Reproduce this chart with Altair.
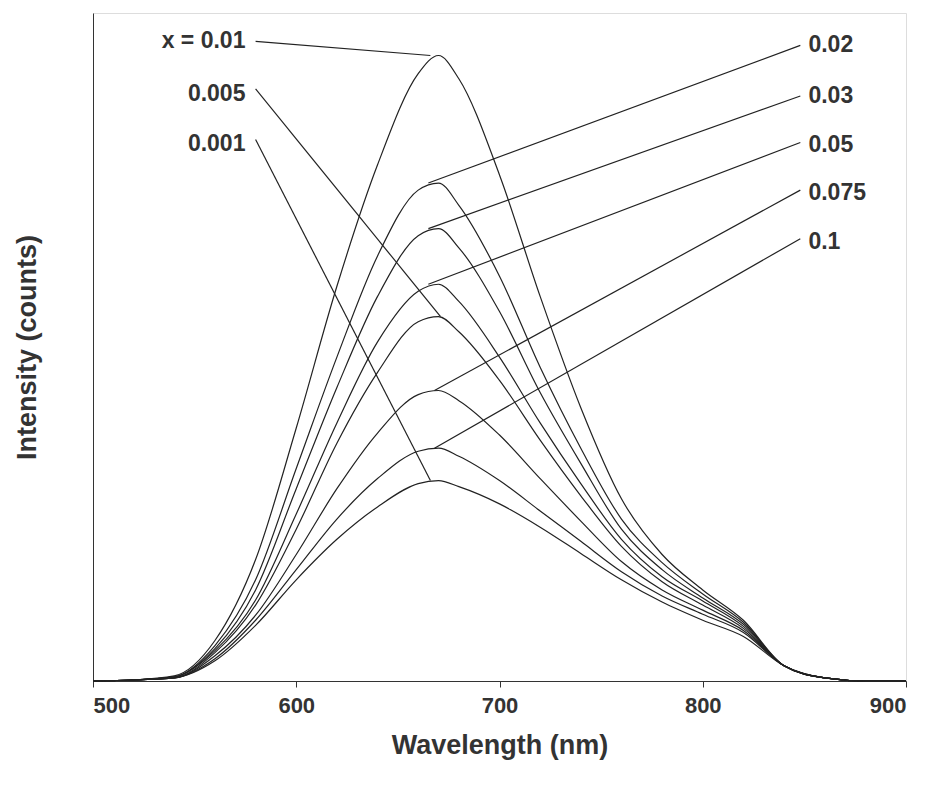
import altair as alt
import pandas as pd

wl = [500, 520, 540, 560, 580, 600, 620, 640, 660, 670, 680, 700, 720, 740, 760, 780, 800, 820, 840, 860, 880, 900]

# intensity (arbitrary counts)
c001 = [0, 1, 5, 40, 120, 250, 390, 510, 600, 618, 595, 500, 380, 270, 180, 125, 90, 60, 15, 3, 0, 0]
c002 = [0, 1, 4, 35, 100, 210, 320, 420, 485, 492, 470, 400, 310, 230, 160, 117, 86, 58, 15, 3, 0, 0]
c003 = [0, 1, 4, 32, 90, 190, 290, 380, 440, 447, 428, 365, 285, 215, 150, 110, 82, 56, 15, 3, 0, 0]
c005 = [0, 1, 4, 30, 80, 165, 255, 335, 385, 392, 375, 320, 255, 195, 140, 103, 79, 54, 15, 3, 0, 0]
c0005 = [0, 1, 3, 28, 75, 150, 235, 305, 355, 360, 345, 297, 238, 183, 133, 98, 75, 52, 15, 3, 0, 0]
c0075 = [0, 1, 3, 25, 65, 125, 190, 245, 283, 287, 277, 243, 200, 158, 118, 90, 70, 50, 15, 3, 0, 0]
c01 = [0, 1, 3, 22, 60, 110, 160, 200, 227, 230, 222, 198, 168, 138, 108, 84, 66, 48, 15, 3, 0, 0]
c0001 = [0, 1, 3, 20, 55, 100, 140, 172, 195, 198, 192, 175, 152, 126, 100, 78, 60, 44, 15, 3, 0, 0]

series = {"0.01": c001, "0.02": c002, "0.03": c003, "0.05": c005,
          "0.005": c0005, "0.075": c0075, "0.1": c01, "0.001": c0001}

rows = []
for name, vals in series.items():
    for w, v in zip(wl, vals):
        rows.append({"wl": w, "I": v, "s": name})
df = pd.DataFrame(rows)

# labels and leader lines
lab_text = ["x = 0.01", "0.005", "0.001", "0.02", "0.03", "0.05", "0.075", "0.1"]
lab_x = [575, 575, 575, 852, 852, 852, 852, 852]
lab_y = [632, 580, 531, 628, 578, 530, 482, 434]
lab_align = ["right", "right", "right", "left", "left", "left", "left", "left"]
ld_x1 = [580, 580, 580, 848, 848, 848, 848, 848]
ld_y1 = [632, 585, 535, 628, 578, 532, 485, 437]
ld_x2 = [666, 671, 666, 665, 665, 665, 668, 668]
ld_y2 = [618, 360, 198, 492, 447, 392, 287, 230]

labels = pd.DataFrame({"t": lab_text, "x": lab_x, "y": lab_y, "a": lab_align})
leaders = pd.DataFrame({"x1": ld_x1, "y1": ld_y1, "x2": ld_x2, "y2": ld_y2})

xs = alt.Scale(domain=[500, 900], nice=False)
ys = alt.Scale(domain=[0, 660], nice=False)

curves = alt.Chart(df).mark_line(color="#222", strokeWidth=1.2, interpolate="monotone").encode(
    alt.X("wl:Q", scale=xs, axis=alt.Axis(values=[500, 600, 700, 800, 900], grid=False, tickSize=6,
          labelFontSize=22, labelFontWeight="bold", titleFontSize=27, titleFontWeight="bold",
          labelColor="#333", titleColor="#333", domainColor="#333", tickColor="#333",
          labelPadding=8, titlePadding=16),
          title="Wavelength (nm)"),
    alt.Y("I:Q", scale=ys, axis=alt.Axis(labels=False, ticks=False, grid=False, titleFontSize=27,
          titleFontWeight="bold", titleColor="#333", domainColor="#333", titlePadding=52),
          title="Intensity (counts)"),
    detail="s:N",
)

lines = alt.Chart(leaders).mark_rule(color="#222", strokeWidth=1.2).encode(
    x=alt.X("x1:Q", scale=xs), y=alt.Y("y1:Q", scale=ys), x2="x2:Q", y2="y2:Q")

left = alt.Chart(labels[labels.a == "right"]).mark_text(align="right", baseline="middle", fontSize=23,
                                                          fontWeight="bold", color="#333").encode(
    x=alt.X("x:Q", scale=xs), y=alt.Y("y:Q", scale=ys), text="t:N")
right = alt.Chart(labels[labels.a == "left"]).mark_text(align="left", baseline="middle", fontSize=23,
                                                          fontWeight="bold", color="#333").encode(
    x=alt.X("x:Q", scale=xs), y=alt.Y("y:Q", scale=ys), text="t:N")

chart = (curves + lines + left + right).properties(width=813, height=668).configure_view(
    stroke="#333", strokeWidth=1.5).configure(font="Liberation Sans")

chart.save("out.html", embed_options={"renderer": "svg", "actions": False})
